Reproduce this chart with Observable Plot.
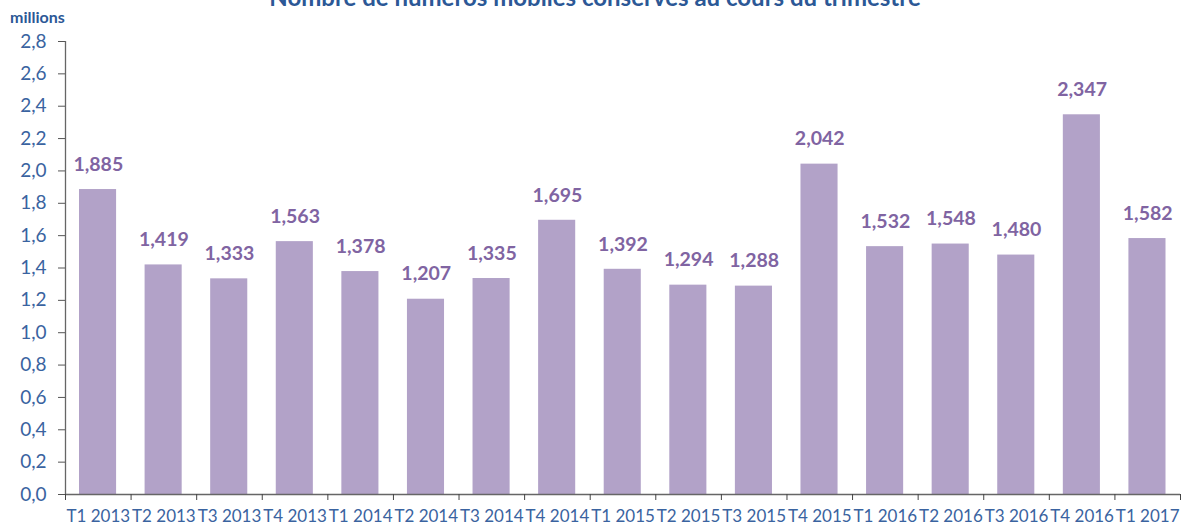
<!DOCTYPE html>
<html><head><meta charset="utf-8">
<script src="https://cdn.jsdelivr.net/npm/d3@7"></script>
<script src="https://cdn.jsdelivr.net/npm/@observablehq/plot@0.6"></script>
<style>
body{margin:0;background:#fff;font-family:Lato,"Open Sans",sans-serif;}
#wrap{position:relative;width:1181px;height:525px;overflow:hidden;}
#title{position:absolute;left:0;width:1190px;top:-15px;text-align:center;font-weight:bold;font-size:24px;line-height:24px;color:#2c5896;}
#unit{position:absolute;left:10px;top:8px;font-weight:bold;font-size:16px;line-height:18px;color:#2c5896;}
</style></head><body>
<div id="wrap"><div id="title">Nombre de numéros mobiles conservés au cours du trimestre</div><div id="unit">millions</div><div id="chart"></div></div>
<script>
const categories = ["T1 2013","T2 2013","T3 2013","T4 2013","T1 2014","T2 2014","T3 2014","T4 2014","T1 2015","T2 2015","T3 2015","T4 2015","T1 2016","T2 2016","T3 2016","T4 2016","T1 2017"];
const values = [1.885,1.419,1.333,1.563,1.378,1.207,1.335,1.695,1.392,1.294,1.288,2.042,1.532,1.548,1.480,2.347,1.582];
const yTicks = [0,0.2,0.4,0.6,0.8,1.0,1.2,1.4,1.6,1.8,2.0,2.2,2.4,2.6,2.8];

const data = categories.map((c,i)=>({c, i, v: values[i]}));
const fr = (d, n) => d3.format("." + n + "f")(d).replace(".", ",");
const blue = "#3a63a0";

const chart = Plot.plot({
  width: 1181, height: 525,
  marginLeft: 65, marginRight: 1, marginTop: 41, marginBottom: 31,
  style: {fontFamily: "Lato, 'Open Sans', sans-serif", background: "#fff"},
  x: {type: "linear", domain: [0, categories.length], axis: null},
  y: {domain: [0, 2.8], axis: null},
  marks: [
    Plot.rectY(data, {x1: "i", x2: d => d.i + 1, y: "v", fill: "#b2a2c8", insetLeft: 14, insetRight: 14.5}),
    Plot.text(data, {x: d => d.i + 0.5, y: "v", text: d => fr(d.v, 3), dy: -25, fill: "#8064a2", fontWeight: "bold", fontSize: 19.5}),
    Plot.axisY({ticks: yTicks, tickFormat: d => fr(d, 1), label: null, tickSize: 7, tickPadding: 12, fontSize: 19, color: blue, stroke: "#555"}),
    Plot.ruleX([0], {stroke: "#666", strokeWidth: 1.3}),
    Plot.ruleY([0], {stroke: "#666", strokeWidth: 1.3}),
    Plot.axisX({ticks: d3.range(0, categories.length + 1), tickFormat: () => null, label: null, tickSize: 6, stroke: "#444", anchor: "bottom"}),
    Plot.text(data, {x: d => d.i + 0.5, y: 0, text: "c", dy: 22, fill: blue, fontSize: 17})
  ]
});
document.getElementById("chart").appendChild(chart);
</script>
</body></html>
